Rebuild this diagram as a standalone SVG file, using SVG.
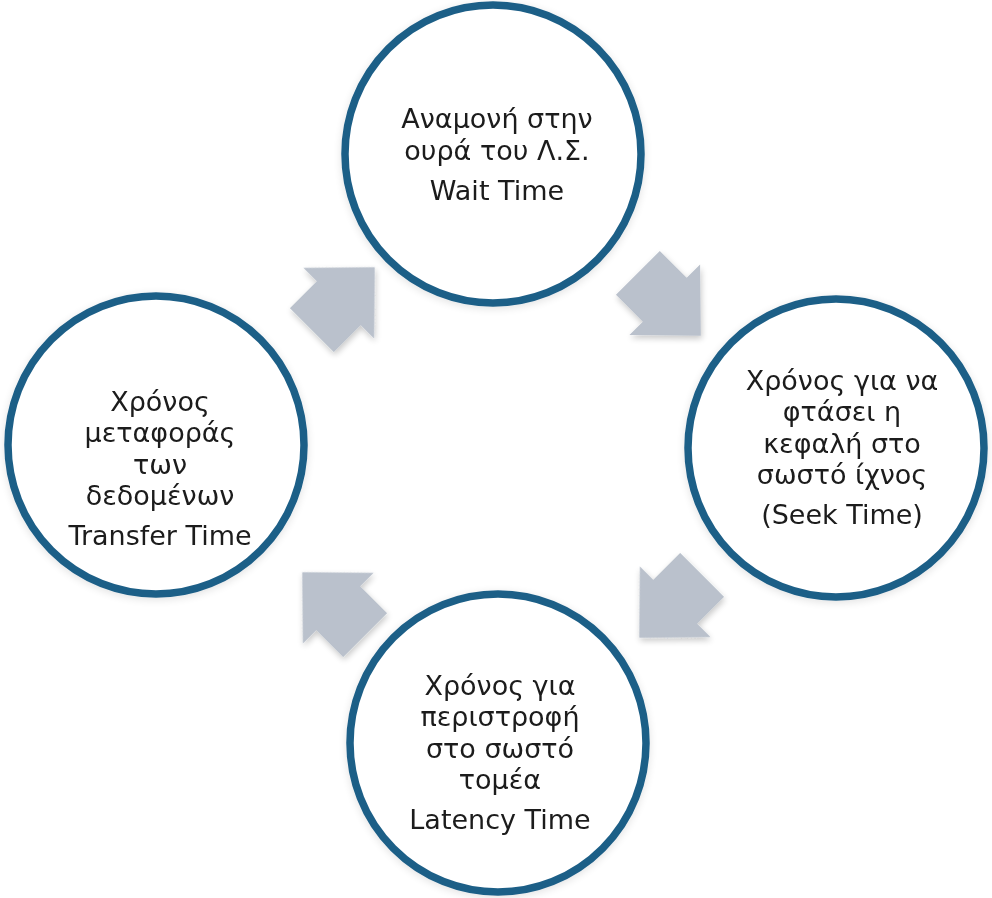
<svg xmlns="http://www.w3.org/2000/svg" width="992" height="898" viewBox="0 0 992 898">
  <defs>
    <filter id="soft" x="-30%" y="-30%" width="160%" height="160%">
      <feGaussianBlur in="SourceAlpha" stdDeviation="3"/>
      <feOffset dx="1" dy="3" result="b"/>
      <feComponentTransfer><feFuncA type="linear" slope="0.22"/></feComponentTransfer>
      <feMerge><feMergeNode/><feMergeNode in="SourceGraphic"/></feMerge>
    </filter>
    <filter id="halo" x="-10%" y="-10%" width="120%" height="120%">
      <feGaussianBlur in="SourceAlpha" stdDeviation="4"/>
      <feOffset dx="0" dy="2" result="b"/>
      <feComponentTransfer><feFuncA type="linear" slope="0.12"/></feComponentTransfer>
      <feMerge><feMergeNode/><feMergeNode in="SourceGraphic"/></feMerge>
    </filter>
    <!-- block arrow pointing along +x, centred on the origin -->
    <polygon id="arrow" points="-44,-31 -6,-31 -6,-50 45,0 -6,50 -6,31 -44,31"/>
  </defs>
  <style>
    .node ellipse { fill: #ffffff; stroke: #1e5f87; stroke-width: 7.5; }
    .node text { font-family: "DejaVu Sans", Verdana, sans-serif; font-size: 27px; fill: #1a1a1a; text-anchor: middle; }
    .conn use { fill: #bac1cc; }
  </style>
  <rect width="992" height="898" fill="#ffffff"/>

  <g id="connectors" class="conn" filter="url(#soft)">
    <use href="#arrow" transform="translate(669,304) rotate(45)"/>
    <use href="#arrow" transform="translate(671,606) rotate(135)"/>
    <use href="#arrow" transform="translate(334,604) rotate(225)"/>
    <use href="#arrow" transform="translate(343,299) rotate(-45)"/>
  </g>

  <g id="wait" class="node" filter="url(#halo)">
    <ellipse cx="493" cy="154" rx="148" ry="149"/>
    <text x="497" y="128">Αναμονή στην</text>
    <text x="497" y="160">ουρά του Λ.Σ.</text>
    <text x="497" y="200">Wait Time</text>
  </g>

  <g id="seek" class="node" filter="url(#halo)">
    <ellipse cx="836" cy="448" rx="148" ry="149"/>
    <text x="842" y="390">Χρόνος για να</text>
    <text x="842" y="421">φτάσει η</text>
    <text x="842" y="453">κεφαλή στο</text>
    <text x="842" y="484">σωστό ίχνος</text>
    <text x="842" y="524">(Seek Time)</text>
  </g>

  <g id="latency" class="node" filter="url(#halo)">
    <ellipse cx="498" cy="743" rx="148" ry="149"/>
    <text x="500" y="695">Χρόνος για</text>
    <text x="500" y="726">περιστροφή</text>
    <text x="500" y="758">στο σωστό</text>
    <text x="500" y="789">τομέα</text>
    <text x="500" y="829">Latency Time</text>
  </g>

  <g id="transfer" class="node" filter="url(#halo)">
    <ellipse cx="156" cy="445" rx="148" ry="149"/>
    <text x="160" y="411">Χρόνος</text>
    <text x="160" y="442">μεταφοράς</text>
    <text x="160" y="474">των</text>
    <text x="160" y="505">δεδομένων</text>
    <text x="160" y="545">Transfer Time</text>
  </g>
</svg>
